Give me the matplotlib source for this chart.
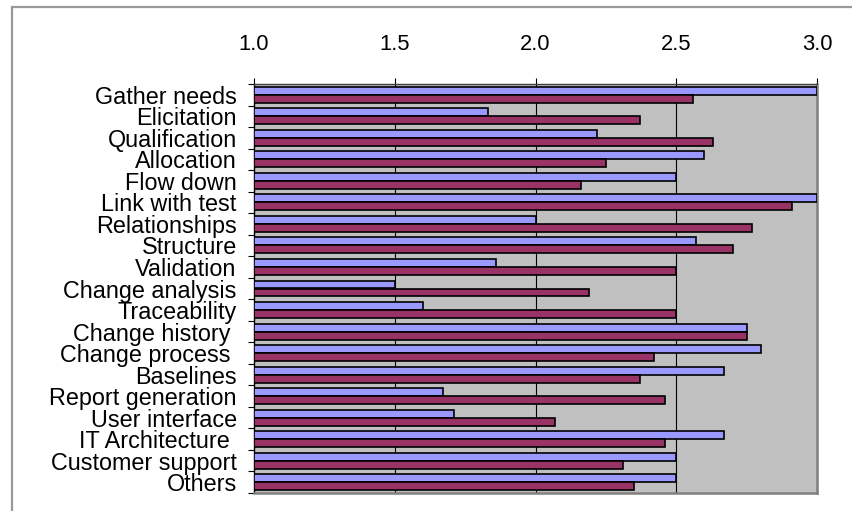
import matplotlib.pyplot as plt
import numpy as np
from matplotlib.patches import Rectangle

plt.rcParams["font.family"] = ["Liberation Sans", "DejaVu Sans"]

categories = [
    "Gather needs",
    "Elicitation",
    "Qualification",
    "Allocation",
    "Flow down",
    "Link with test",
    "Relationships",
    "Structure",
    "Validation",
    "Change analysis",
    "Traceability",
    "Change history ",
    "Change process ",
    "Baselines",
    "Report generation",
    "User interface",
    "IT Architecture ",
    "Customer support",
    "Others",
]

series_a = [3.0, 1.83, 2.22, 2.60, 2.50, 3.0, 2.00, 2.57, 1.86, 1.50,
            1.60, 2.75, 2.80, 2.67, 1.67, 1.71, 2.67, 2.50, 2.50]
series_b = [2.56, 2.37, 2.63, 2.25, 2.16, 2.91, 2.77, 2.70, 2.50, 2.19,
            2.50, 2.75, 2.42, 2.37, 2.46, 2.07, 2.46, 2.31, 2.35]

x_ticks = [1.0, 1.5, 2.0, 2.5, 3.0]

BLUE = "#9999FF"
MAROON = "#993366"
PLOT_BG = "#C0C0C0"

fig = plt.figure(figsize=(8.52, 5.11), dpi=100)
fig.patch.set_facecolor("white")

# outer chart frame, runs off the right and bottom edges
fig.patches.append(Rectangle((12 / 852, -0.05), 1.0, 1 - 7 / 511 + 0.05,
                             transform=fig.transFigure, fill=False,
                             edgecolor="#999999", linewidth=1.6))

ax = fig.add_axes([254 / 852, 1 - 493 / 511, (817 - 254) / 852, (493 - 84) / 511])
ax.set_facecolor(PLOT_BG)

y = np.arange(len(categories))
h = 0.37
left = 1.0
ax.barh(y - h / 2, np.array(series_a) - left, left=left, height=h,
        color=BLUE, edgecolor="black", linewidth=1.2, zorder=3)
ax.barh(y + h / 2, np.array(series_b) - left, left=left, height=h,
        color=MAROON, edgecolor="black", linewidth=1.2, zorder=3)

ax.set_xlim(1.0, 3.0)
ax.set_ylim(len(categories) - 0.5, -0.5)

ax.xaxis.tick_top()
ax.set_xticks(x_ticks)
ax.set_xticklabels([f"{v:.1f}" for v in x_ticks])
ax.tick_params(axis="x", direction="out", length=4, width=0.8, pad=17,
               labelsize=15.8, color="black")
for v in x_ticks[1:-1]:
    ax.axvline(v, color="black", linewidth=0.8, zorder=1)

ax.set_yticks(y)
ax.set_yticklabels(categories)
ax.tick_params(axis="y", which="major", length=0, pad=12.5, labelsize=16.8)
ax.set_yticks(np.arange(-0.5, len(categories)), minor=True)
ax.tick_params(axis="y", which="minor", direction="out", length=4.3,
               width=0.8, color="black")

ax.spines["left"].set_color("black")
ax.spines["left"].set_linewidth(1.0)
ax.spines["top"].set_color("#404040")
ax.spines["top"].set_linewidth(1.0)
ax.spines["right"].set_color("#808080")
ax.spines["right"].set_linewidth(1.8)
ax.spines["bottom"].set_color("#808080")
ax.spines["bottom"].set_linewidth(1.8)

fig.savefig("out.png", dpi=100)
